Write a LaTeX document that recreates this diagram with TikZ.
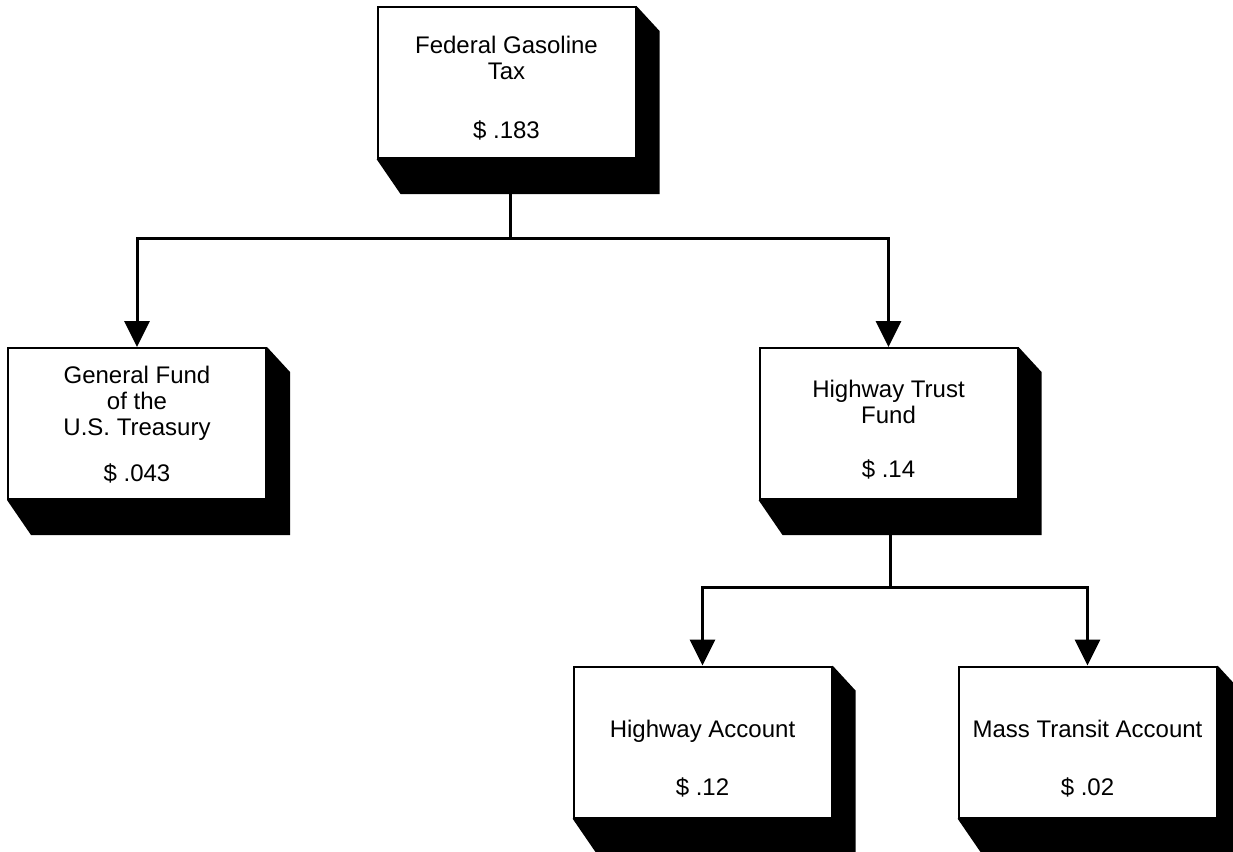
\documentclass[tikz,border=0pt]{standalone}
\usepackage{fontspec}
\setmainfont{Liberation Sans}
\usetikzlibrary{arrows.meta}
\tikzstyle{box}=[draw=black,fill=white,minimum width=258pt,minimum height=151pt,inner sep=0pt,align=center,font=\fontsize{24}{26}\selectfont]
\tikzstyle{link}=[line width=3pt]
\tikzstyle{arrow}=[link,-{Triangle[length=26pt,width=25pt]}]
\newcommand{\boxshadow}[1]{\fill (#1.south west) -- ++(24,35) -- ([shift={(23,35)}]#1.south east) -- ([shift={(23,25)}]#1.north east) -- (#1.north east) -- (#1.south east) -- cycle;}
\newcommand{\toppad}[1]{\rule{0pt}{#1pt}}
\tikzset{every picture/.style={
    line width=2pt
  }
}

\begin{document}
\begin{tikzpicture}[x=1pt,y=-1pt]
      \useasboundingbox (0,0) rectangle (1233,851);
      \node[box] at (506.5,82.5) (tax) {\toppad{29}Federal Gasoline\\Tax\\[33pt]\$ .183};
      \node[box] at (137,423.5) (gf) {\toppad{20}General Fund\\of the\\U.S. Treasury\\[20pt]\$ .043};
      \node[box] at (888.5,423.5) (htf) {\toppad{30}Highway Trust\\Fund\\[28pt]\$ .14};
      \node[box] at (702.5,742) (ha) {\toppad{50}Highway Account\\[32pt]\$ .12};
      \node[box] at (1087.5,742) (mt) {\toppad{50}Mass Transit Account\\[32pt]\$ .02};
      \boxshadow{tax}
      \boxshadow{gf}
      \boxshadow{htf}
      \boxshadow{ha}
      \boxshadow{mt}
      \coordinate (split1) at (510,238);
      \coordinate (split2) at (890,587);
      \draw[link] (tax.south -| split1) -- (split1);
      \draw[arrow] (split1) -| (gf);
      \draw[arrow] (split1) -| (htf);
      \draw[link] (htf.south -| split2) -- (split2);
      \draw[arrow] (split2) -| (ha);
      \draw[arrow] (split2) -| (mt);
    \end{tikzpicture}
\end{document}
